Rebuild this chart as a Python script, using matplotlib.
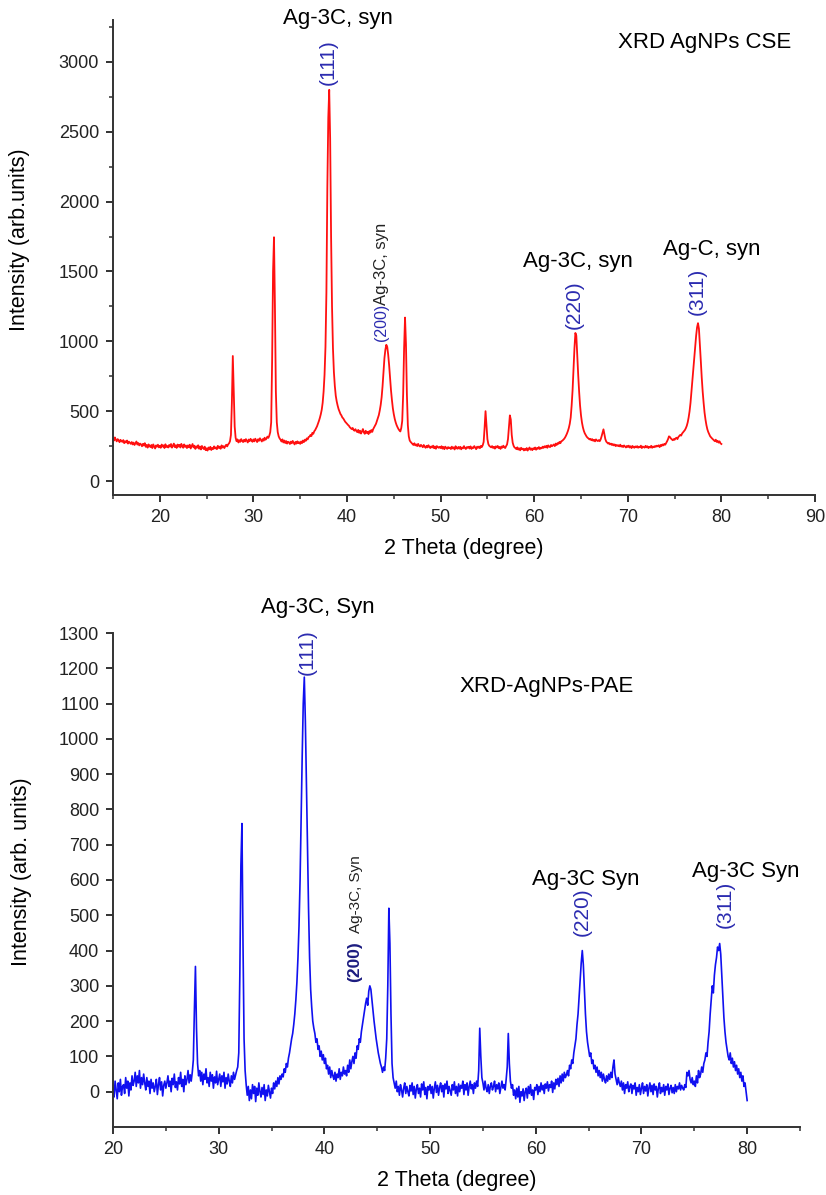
import numpy as np
import matplotlib
matplotlib.use("Agg")
import matplotlib.pyplot as plt
from matplotlib.ticker import MultipleLocator

plt.rcParams['font.family'] = ['Liberation Sans', 'DejaVu Sans']

# ---------------- data: top pattern (CSE), 0.1 deg steps from 15.0 ----------------
cse_start = 15.0
cse_y = [
    305, 290, 312, 296, 284, 300, 292, 278, 295, 286,   # 15
    280, 293, 271, 285, 276, 290, 268, 282, 274, 266,   # 16
    279, 262, 275, 258, 270, 283, 261, 272, 255, 268,   # 17
    262, 249, 266, 254, 271, 245, 258, 239, 262, 251,   # 18
    243, 258, 236, 262, 248, 233, 255, 246, 260, 241,   # 19
    252, 238, 261, 247, 255, 236, 263, 244, 251, 240,   # 20
    258, 246, 265, 239, 252, 268, 243, 256, 237, 261,   # 21
    247, 259, 240, 266, 250, 238, 262, 245, 254, 236,   # 22
    255, 242, 260, 233, 249, 265, 241, 253, 230, 248,   # 23
    239, 256, 231, 247, 226, 251, 238, 229, 246, 221,   # 24
    234, 218, 240, 227, 245, 222, 236, 229, 248, 233,   # 25
    241, 228, 252, 237, 246, 231, 255, 240, 249, 236,   # 26
    251, 260, 248, 262, 270, 285, 330, 560, 895, 640,   # 27
    390, 310, 285, 298, 276, 292, 281, 300, 287, 279,   # 28
    295, 283, 300, 288, 276, 297, 285, 302, 290, 281,   # 29
    298, 284, 303, 291, 279, 299, 288, 306, 294, 283,   # 30
    300, 289, 310, 296, 305, 318, 309, 325, 350, 420,   # 31
    860, 1500, 1745, 1250, 640, 420, 350, 320, 305, 296,  # 32
    283, 298, 276, 290, 272, 286, 268, 281, 277, 265,   # 33
    282, 270, 287, 275, 262, 280, 268, 284, 271, 278,   # 34
    266, 283, 272, 290, 279, 296, 288, 305, 298, 315,   # 35
    318, 330, 322, 345, 338, 356, 365, 378, 392, 410,   # 36
    430, 452, 478, 510, 560, 640, 760, 960, 1350, 2100,  # 37
    2600, 2800, 2450, 1750, 1250, 950, 780, 680, 610, 570,  # 38
    540, 515, 498, 480, 470, 455, 448, 437, 425, 418,   # 39
    410, 402, 396, 385, 378, 372, 380, 366, 360, 371,   # 40
    358, 350, 366, 345, 360, 340, 355, 372, 348, 338,   # 41
    360, 344, 352, 336, 358, 347, 365, 352, 372, 385,   # 42
    398, 410, 430, 448, 472, 505, 545, 600, 680, 780,   # 43
    880, 940, 975, 960, 905, 830, 740, 650, 580, 520,   # 44
    478, 445, 420, 400, 385, 372, 362, 355, 380, 430,   # 45
    620, 950, 1170, 980, 620, 400, 320, 290, 280, 272,  # 46
    265, 258, 270, 255, 262, 250, 266, 253, 247, 259,   # 47
    250, 242, 258, 246, 238, 252, 241, 256, 244, 236,   # 48
    248, 240, 253, 235, 247, 231, 250, 242, 238, 245,   # 49
    236, 249, 232, 244, 228, 246, 238, 230, 243, 235,   # 50
    240, 229, 246, 233, 241, 226, 249, 237, 231, 244,   # 51
    232, 245, 227, 240, 234, 250, 236, 229, 243, 238,   # 52
    245, 233, 248, 230, 241, 236, 250, 239, 228, 246,   # 53
    238, 247, 235, 251, 243, 256, 280, 380, 500, 400,   # 54
    300, 265, 252, 246, 241, 250, 237, 245, 232, 248,   # 55
    240, 251, 236, 244, 230, 247, 239, 253, 242, 236,   # 56
    250, 262, 300, 390, 470, 440, 330, 275, 252, 240,   # 57
    236, 228, 241, 225, 234, 220, 238, 227, 232, 219,   # 58
    230, 222, 236, 218, 229, 240, 224, 233, 221, 235,   # 59
    228, 240, 224, 236, 231, 243, 229, 238, 234, 246,   # 60
    237, 249, 241, 252, 238, 255, 246, 243, 258, 249,   # 61
    255, 262, 250, 268, 258, 272, 266, 280, 271, 285,   # 62
    288, 295, 302, 312, 325, 340, 358, 380, 410, 455,   # 63
    540, 650, 800, 950, 1060, 1040, 900, 760, 640, 540,  # 64
    470, 420, 385, 360, 342, 330, 318, 310, 305, 298,   # 65
    302, 292, 300, 288, 295, 284, 298, 290, 286, 293,   # 66
    285, 298, 320, 345, 370, 335, 300, 282, 275, 268,   # 67
    272, 262, 268, 258, 265, 255, 262, 250, 258, 252,   # 68
    256, 248, 260, 246, 252, 243, 255, 247, 240, 251,   # 69
    244, 253, 240, 249, 236, 251, 243, 238, 248, 241,   # 70
    250, 238, 246, 241, 253, 236, 247, 243, 239, 252,   # 71
    241, 249, 236, 245, 240, 252, 238, 247, 242, 250,   # 72
    245, 253, 248, 256, 243, 258, 250, 262, 255, 266,   # 73
    260, 272, 285, 300, 320, 315, 305, 298, 292, 300,   # 74
    295, 305, 310, 300, 315, 322, 330, 325, 340, 348,   # 75
    355, 365, 378, 395, 420, 455, 500, 560, 640, 720,   # 76
    800, 880, 960, 1040, 1100, 1130, 1090, 980, 860, 740,  # 77
    640, 560, 490, 440, 400, 370, 350, 335, 320, 312,   # 78
    305, 298, 292, 285, 296, 280, 288, 275, 284, 270,   # 79
    265,                                                # 80
]

# ---------------- data: bottom pattern (PAE), 0.1 deg steps from 20.0 ----------------
pae_start = 20.0
pae_y = [
    10, -15, 30, 5, -20, 25, 0, 35, -10, 15,           # 20
    20, -5, 40, 10, 30, -12, 25, 5, 45, 18,            # 21
    30, 55, 15, 45, 25, 60, 10, 40, 20, 50,            # 22
    25, 5, 40, 15, 30, -5, 35, 10, 25, 0,              # 23
    15, 35, -8, 20, 40, 5, 28, -12, 18, 30,            # 24
    10, 25, 45, 15, 30, 0, 38, 20, 50, 12,             # 25
    28, 5, 40, 22, 55, 15, 35, 0, 45, 20,              # 26
    35, 60, 25, 48, 30, 55, 90, 230, 355, 180,         # 27
    80, 45, 60, 30, 55, 20, 50, 35, 65, 25,            # 28
    40, 15, 55, 30, 48, 10, 42, 25, 58, 20,            # 29
    35, 50, 15, 45, 28, 55, 10, 40, 22, 50,            # 30
    30, 15, 45, 25, 55, 35, 48, 60, 70, 110,           # 31
    330, 640, 760, 420, 150, 60, 20, -10, 15, -25,     # 32
    5, -20, 20, -5, 15, -28, 10, -10, 25, 0,           # 33
    -15, 12, -8, 20, -25, 5, -12, 18, 0, -18,          # 34
    10, -5, 25, 8, 30, 15, 40, 22, 45, 35,             # 35
    50, 42, 65, 55, 80, 70, 95, 110, 130, 150,         # 36
    165, 190, 220, 260, 310, 380, 470, 600, 780, 950,  # 37
    1100, 1175, 1050, 880, 700, 520, 380, 290, 240, 200,  # 38
    180, 165, 140, 150, 120, 130, 100, 115, 90, 105,   # 39
    80, 95, 65, 75, 50, 70, 40, 60, 45, 35,            # 40
    55, 30, 50, 40, 65, 35, 55, 45, 70, 50,            # 41
    60, 45, 75, 55, 90, 65, 85, 100, 80, 110,          # 42
    95, 130, 120, 150, 140, 170, 190, 210, 230, 250,   # 43
    265, 245, 285, 300, 290, 260, 230, 200, 175, 150,  # 44
    130, 110, 95, 80, 70, 55, 70, 60, 95, 150,         # 45
    300, 520, 420, 220, 80, 40, 25, 10, 30, 0,         # 46
    15, -10, 20, 5, -15, 10, 25, -5, 15, 0,            # 47
    -12, 18, 2, 25, -8, 15, -18, 8, 20, -5,            # 48
    10, -15, 22, 5, 28, -8, 12, -20, 15, 5,            # 49
    20, -5, 15, -18, 10, 28, -2, 18, -10, 12,          # 50
    25, 0, 18, -15, 22, 8, 30, -5, 15, 2,              # 51
    -10, 20, 5, 28, -5, 15, -12, 22, 0, 18,            # 52
    10, 30, -8, 20, 5, 25, -10, 15, 30, 8,             # 53
    20, -5, 25, 10, 30, 15, 60, 180, 100, 40,          # 54
    25, 5, 30, 10, 0, 20, -5, 15, 25, 5,               # 55
    15, 30, 0, 20, 8, 25, -5, 12, 30, 10,              # 56
    20, 5, 35, 70, 165, 80, 30, 10, 20, -10,           # 57
    5, -20, 10, -15, 15, -30, 0, -12, 8, -25,          # 58
    0, 10, -18, 15, -5, 20, -10, 5, -22, 12,           # 59
    5, 20, -8, 15, 0, 25, 5, 18, -5, 22,               # 60
    10, 28, 2, 20, 12, 30, -2, 25, 8, 35,              # 61
    20, 38, 15, 45, 25, 50, 30, 55, 40, 48,            # 62
    60, 45, 75, 65, 90, 80, 110, 130, 150, 190,        # 63
    220, 270, 320, 365, 400, 360, 290, 220, 170, 140,  # 64
    120, 100, 110, 80, 90, 65, 75, 55, 70, 45,         # 65
    60, 40, 55, 30, 50, 35, 25, 45, 30, 50,            # 66
    35, 55, 40, 70, 90, 50, 35, 20, 40, 25,            # 67
    15, 30, 5, 25, -5, 20, 10, 28, 0, 15,              # 68
    22, -5, 18, 8, 25, -10, 12, 0, 20, -8,             # 69
    10, 25, -5, 15, 2, 20, -12, 10, 25, 0,             # 70
    18, -8, 22, 5, 15, -15, 10, 25, -5, 12,            # 71
    0, 20, -10, 15, 5, 22, -8, 10, 18, -3,             # 72
    12, -5, 20, 0, 15, 8, 25, 5, 18, 10,               # 73
    5, 20, 12, 55, 45, 60, 35, 25, 40, 20,             # 74
    30, 15, 45, 25, 60, 40, 50, 70, 55, 80,            # 75
    90, 110, 100, 140, 170, 220, 260, 300, 280, 330,   # 76
    360, 380, 410, 400, 420, 390, 330, 270, 210, 170,  # 77
    140, 120, 100, 90, 110, 80, 95, 70, 85, 60,        # 78
    75, 50, 65, 40, 55, 30, 45, 15, 25, 0,             # 79
    -25,                                               # 80
]

cse_x = cse_start + 0.1 * np.arange(len(cse_y))
pae_x = pae_start + 0.1 * np.arange(len(pae_y))

W, H = 826, 1195
fig = plt.figure(figsize=(W / 100, H / 100), dpi=100)

def px_axes(l, t, r, b):
    return fig.add_axes([l / W, 1 - b / H, (r - l) / W, (b - t) / H])

ax1 = px_axes(113, 20, 815, 495)
ax2 = px_axes(113, 633, 800, 1127)

index_blue = '#2b2bb0'

def style(ax):
    for s in ['top', 'right']:
        ax.spines[s].set_visible(False)
    for s in ['left', 'bottom']:
        ax.spines[s].set_linewidth(1.4)
        ax.spines[s].set_color('#333333')
    ax.tick_params(which='major', direction='out', length=5, width=1.3,
                   labelsize=13, colors='#222222', pad=5)
    ax.tick_params(which='minor', direction='out', length=3, width=1.1, colors='#333333')

# ---- top ----
ax1.plot(cse_x, cse_y, color='#ff1010', lw=1.3)
ax1.set_xlim(15, 90)
ax1.set_ylim(-100, 3300)
ax1.xaxis.set_minor_locator(MultipleLocator(5))
ax1.set_xticks([20, 30, 40, 50, 60, 70, 80, 90])
ax1.set_yticks([0, 500, 1000, 1500, 2000, 2500, 3000])
ax1.yaxis.set_minor_locator(MultipleLocator(250))
style(ax1)
ax1.set_xlabel('2 Theta (degree)', fontsize=15.5, labelpad=9)
ax1.set_ylabel('Intensity (arb.units)', fontsize=15.5)
ax1.yaxis.set_label_coords(-0.118, 0.537)

ax1.text(39.0, 3314, 'Ag-3C, syn', fontsize=16, ha='center', va='center', clip_on=False)
ax1.text(78.2, 3142, 'XRD AgNPs CSE', fontsize=16, ha='center', va='center')
ax1.text(38.0, 3000, '(111)', fontsize=15, rotation=90, color=index_blue, ha='center', va='center')
ax1.text(43.65, 1000, '(200)', fontsize=11.5, rotation=90, color=index_blue, ha='center', va='bottom')
ax1.text(43.72, 1262, 'Ag-3C, syn', fontsize=12, rotation=90, color='#222222', ha='center', va='bottom')
ax1.text(64.7, 1568, 'Ag-3C, syn', fontsize=16, ha='center', va='center')
ax1.text(64.25, 1265, '(220)', fontsize=15, rotation=90, color=index_blue, ha='center', va='center')
ax1.text(79.0, 1654, 'Ag-C, syn', fontsize=16, ha='center', va='center')
ax1.text(77.4, 1360, '(311)', fontsize=15, rotation=90, color=index_blue, ha='center', va='center')

# ---- bottom ----
ax2.plot(pae_x, pae_y, color='#1010f0', lw=1.2)
ax2.set_xlim(20, 85)
ax2.set_ylim(-100, 1300)
ax2.xaxis.set_minor_locator(MultipleLocator(5))
ax2.set_xticks([20, 30, 40, 50, 60, 70, 80])
ax2.set_yticks(list(range(0, 1301, 100)))
style(ax2)
ax2.set_xlabel('2 Theta (degree)', fontsize=15.5, labelpad=9)
ax2.set_ylabel('Intensity (arb. units)', fontsize=15.5)
ax2.yaxis.set_label_coords(-0.118, 0.516)

ax2.text(39.4, 1371, 'Ag-3C, Syn', fontsize=16, ha='center', va='center', clip_on=False)
ax2.text(38.35, 1245, '(111)', fontsize=15, rotation=90, color=index_blue, ha='center', va='center')
ax2.text(61.06, 1147, 'XRD-AgNPs-PAE', fontsize=16, ha='center', va='center')
ax2.text(42.9, 310, '(200)', fontsize=12.5, fontweight='bold', rotation=90, color='#1c1c80',
         ha='center', va='bottom')
ax2.text(42.95, 450, 'Ag-3C, Syn', fontsize=11, rotation=90, color='#222222', ha='center', va='bottom')
ax2.text(64.75, 600, 'Ag-3C Syn', fontsize=16, ha='center', va='center')
ax2.text(64.37, 510, '(220)', fontsize=15, rotation=90, color=index_blue, ha='center', va='center')
ax2.text(79.9, 623, 'Ag-3C Syn', fontsize=16, ha='center', va='center')
ax2.text(77.9, 530, '(311)', fontsize=15, rotation=90, color=index_blue, ha='center', va='center')

fig.savefig('out.png', dpi=100)
